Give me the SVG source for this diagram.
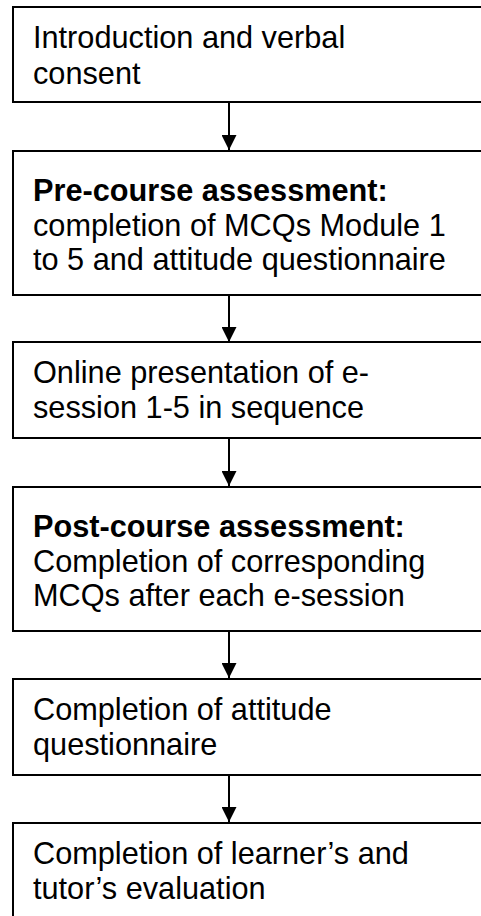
<svg xmlns="http://www.w3.org/2000/svg" width="481" height="916" viewBox="0 0 481 916">
<defs>
<style>
.box{fill:#fff;stroke:#000;stroke-width:2}
.t{font-family:"Liberation Sans",Arial,sans-serif;font-size:30.7px;fill:#000}
.b{font-weight:bold}
.c{stroke:#000;stroke-width:2;fill:none}
</style>
<marker id="ah" markerWidth="15" markerHeight="15" refX="15" refY="7.5" orient="auto" markerUnits="userSpaceOnUse">
<path d="M0,0 L15,7.5 L0,15 Z" fill="#000"/>
</marker>
</defs>
<rect width="481" height="916" fill="#fff"/>
<g id="connectors">
<line class="c" x1="229" y1="102" x2="229" y2="150" marker-end="url(#ah)"/>
<line class="c" x1="229" y1="295" x2="229" y2="342" marker-end="url(#ah)"/>
<line class="c" x1="229" y1="438" x2="229" y2="486" marker-end="url(#ah)"/>
<line class="c" x1="229" y1="631" x2="229" y2="678" marker-end="url(#ah)"/>
<line class="c" x1="229" y1="775" x2="229" y2="822" marker-end="url(#ah)"/>
</g>
<g id="n1">
<rect class="box" x="13" y="7" width="500" height="95"/>
<text class="t" x="33" y="48">Introduction and verbal</text>
<text class="t" x="33" y="84">consent</text>
</g>
<g id="n2">
<rect class="box" x="13" y="151" width="500" height="144"/>
<text class="t b" x="33" y="201">Pre-course assessment:</text>
<text class="t" x="33" y="236">completion of MCQs Module 1</text>
<text class="t" x="33" y="270">to 5 and attitude questionnaire</text>
</g>
<g id="n3">
<rect class="box" x="13" y="342" width="500" height="96"/>
<text class="t" x="33" y="383">Online presentation of e-</text>
<text class="t" x="33" y="418">session 1-5 in sequence</text>
</g>
<g id="n4">
<rect class="box" x="13" y="487" width="500" height="144"/>
<text class="t b" x="33" y="537">Post-course assessment:</text>
<text class="t" x="33" y="572">Completion of corresponding</text>
<text class="t" x="33" y="606">MCQs after each e-session</text>
</g>
<g id="n5">
<rect class="box" x="13" y="679" width="500" height="96"/>
<text class="t" x="33" y="720">Completion of attitude</text>
<text class="t" x="33" y="755">questionnaire</text>
</g>
<g id="n6">
<rect class="box" x="13" y="823" width="500" height="120"/>
<text class="t" x="33" y="864">Completion of learner’s and</text>
<text class="t" x="33" y="899">tutor’s evaluation</text>
</g>
</svg>
